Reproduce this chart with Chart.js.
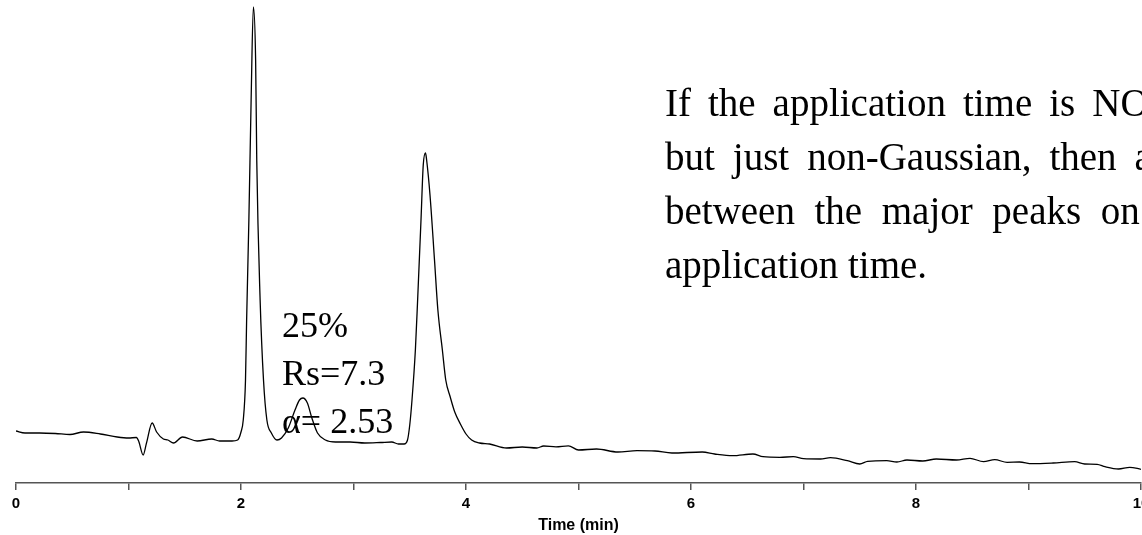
<!DOCTYPE html>
<html>
<head>
<meta charset="utf-8">
<title>Chromatogram</title>
<script src="https://cdn.jsdelivr.net/npm/chart.js@4.4.1/dist/chart.umd.min.js"></script>
<style>
  html, body { margin: 0; padding: 0; background: #fff; }
  #wrap { width: 1142px; height: 535px; position: relative; }
</style>
</head>
<body>
<div id="wrap"><canvas id="chrom"></canvas></div>
<script>
// retention time (min) and detector signal
const times = [
  0, 0.08, 0.21, 0.35, 0.48, 0.60, 0.75, 0.90, 1.00, 1.07,
  1.09, 1.13, 1.16, 1.21, 1.25, 1.31, 1.35, 1.40, 1.48, 1.61,
  1.74, 1.81, 1.92, 1.97, 2.00, 2.02, 2.04, 2.05, 2.07, 2.09,
  2.11, 2.13, 2.14, 2.17, 2.20, 2.23, 2.27, 2.32, 2.36, 2.42,
  2.48, 2.52, 2.55, 2.59, 2.63, 2.68, 2.75, 2.84, 2.97, 3.10,
  3.24, 3.34, 3.40, 3.45, 3.48, 3.50, 3.52, 3.55, 3.57, 3.60,
  3.62, 3.64, 3.65, 3.68, 3.72, 3.75, 3.79, 3.82, 3.86, 3.90,
  3.95, 4.00, 4.05, 4.12, 4.21, 4.36, 4.50, 4.63, 4.69, 4.80,
  4.91, 5.00, 5.16, 5.35, 5.52, 5.68, 5.83, 6.10, 6.21, 6.37,
  6.55, 6.64, 6.79, 6.91, 7.00, 7.15, 7.24, 7.39, 7.50, 7.57,
  7.74, 7.83, 7.92, 8.06, 8.18, 8.36, 8.48, 8.60, 8.70, 8.81,
  8.92, 9.03, 9.22, 9.41, 9.50, 9.61, 9.68, 9.80, 9.90, 10.0
];

const signal = [
  5.2, 5.0, 5.0, 4.95, 4.85, 5.1, 4.9, 4.6, 4.5, 4.55,
  4.2, 2.8, 4.0, 6.0, 5.1, 4.4, 4.3, 4.0, 4.6, 4.2,
  4.4, 4.2, 4.2, 4.3, 5.1, 6.3, 10.3, 16.3, 26.3, 38.3,
  47.6, 42.3, 32.3, 18.3, 10.3, 6.3, 5.0, 4.3, 4.5, 5.5,
  7.3, 8.3, 8.5, 8.0, 6.5, 5.0, 4.3, 4.1, 4.1, 4.0,
  4.05, 4.1, 3.9, 3.9, 4.3, 5.8, 8.3, 13.3, 18.3, 26.3,
  31.8, 33.0, 32.3, 28.8, 22.3, 17.3, 13.3, 10.3, 8.6, 7.1,
  5.9, 4.9, 4.3, 4.0, 3.9, 3.5, 3.6, 3.5, 3.7, 3.62,
  3.72, 3.3, 3.4, 3.1, 3.23, 3.2, 3.0, 3.1, 2.9, 2.73,
  2.9, 2.63, 2.57, 2.63, 2.43, 2.4, 2.53, 2.23, 1.9, 2.17,
  2.23, 2.1, 2.3, 2.2, 2.4, 2.3, 2.47, 2.13, 2.33, 2.07,
  2.1, 1.93, 2.0, 2.13, 1.9, 1.87, 1.63, 1.4, 1.57, 1.37
];

// justified paragraph: words per line and the gap between them
const paragraph = [
  { words: ["If", "the", "application", "time", "is", "NOT", "Gaussian"], gap: 17 },
  { words: ["but", "just", "non-Gaussian,", "then", "a", "change"], gap: 18 },
  { words: ["between", "the", "major", "peaks", "on", "the"], gap: 19.6 },
  { words: ["application", "time."], gap: null }
];

const peakNotes = ["25%", "Rs=7.3", "\u03b1= 2.53"];

function drawWords(ctx, words, x, y, gap) {
  if (gap === null) {
    ctx.fillText(words.join(" "), x, y);
    return;
  }
  words.forEach(w => {
    ctx.fillText(w, x, y);
    x += ctx.measureText(w).width + gap;
  });
}

// text written over the trace
const notesPlugin = {
  id: "notes",
  afterDatasetsDraw(chart) {
    const ctx = chart.ctx;
    ctx.save();
    ctx.fillStyle = "#000";
    ctx.textBaseline = "alphabetic";
    ctx.font = '39px "Liberation Serif", "Times New Roman", serif';
    paragraph.forEach((line, i) => drawWords(ctx, line.words, 665, 116 + i * 54, line.gap));
    ctx.font = '36px "Liberation Serif", "Times New Roman", serif';
    peakNotes.forEach((line, i) => ctx.fillText(line, 282, 337 + i * 48));
    ctx.restore();
  }
};

new Chart(document.getElementById("chrom"), {
  type: "line",
  data: {
    datasets: [{
      data: times.map((t, i) => ({ x: t, y: signal[i] })),
      borderColor: "#000",
      borderWidth: 1.3,
      pointRadius: 0,
      fill: false,
      cubicInterpolationMode: "monotone"
    }]
  },
  options: {
    responsive: true,
    maintainAspectRatio: false,
    animation: false,
    layout: { padding: { left: 16, right: 1, top: 0, bottom: 0 } },
    plugins: { legend: { display: false }, tooltip: { enabled: false } },
    scales: {
      x: {
        type: "linear",
        min: 0,
        max: 10,
        afterFit(scale) {
          scale.height = 52;
          scale.paddingLeft = 0;
          scale.paddingRight = 0;
        },
        border: { display: true, color: "#555", width: 1.5 },
        grid: { drawOnChartArea: false, drawTicks: true, tickLength: 7, color: "#555", lineWidth: 1.5 },
        ticks: {
          stepSize: 1,
          padding: 5,
          maxRotation: 0,
          autoSkip: false,
          color: "#000",
          font: { family: '"Liberation Sans", Arial, sans-serif', size: 15, weight: "bold" },
          callback: v => (v % 2 === 0 ? v : "")
        },
        title: {
          display: true,
          text: "Time (min)",
          color: "#000",
          padding: { top: 0, bottom: 0 },
          font: { family: '"Liberation Sans", Arial, sans-serif', size: 16, weight: "bold" }
        }
      },
      y: { display: false, min: 0, max: 48.3 }
    }
  },
  plugins: [notesPlugin]
});
</script>
</body>
</html>
